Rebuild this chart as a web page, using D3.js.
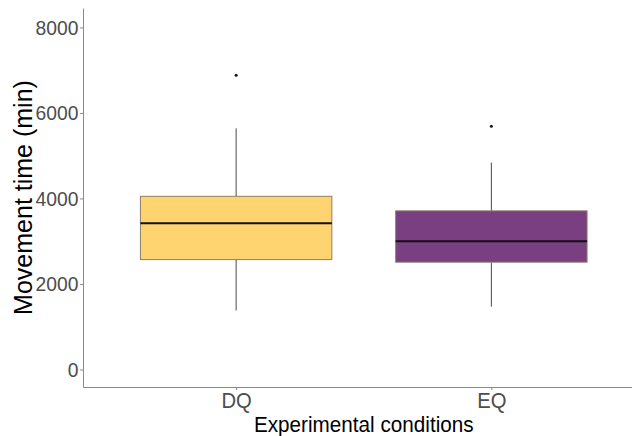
<!DOCTYPE html>
<html>
<head>
<meta charset="utf-8">
<script src="https://cdn.jsdelivr.net/npm/d3@7"></script>
<style>
  body { margin: 0; background: #fff; }
  text { font-family: "Liberation Sans", Arial, sans-serif; }
</style>
</head>
<body>
<div id="chart"></div>
<script>
// Data
const conditions = ['DQ', 'EQ'];
const whiskerLow = [1380, 1470];
const q1 = [2570, 2510];
const medians = [3420, 3000];
const q3 = [4050, 3710];
const whiskerHigh = [5640, 4840];
const outliers = [6880, 5690];
const fills = ['#FED470', '#7A3F81'];
const yTicks = [0, 2000, 4000, 6000, 8000];

const boxes = conditions.map((c, i) => ({
	name: c, lo: whiskerLow[i], q1: q1[i], med: medians[i], q3: q3[i],
	hi: whiskerHigh[i], out: outliers[i], fill: fills[i]
}));

const width = 632, height = 436;
const margin = {top: 8, left: 83, bottom: 49};

const svg = d3.select('#chart').append('svg')
	.attr('width', width)
	.attr('height', height);

// panel extends a bit past the right edge (cropped in the original)
const xScale = d3.scalePoint()
	.domain(conditions)
	.range([margin.left, 644.5])
	.padding(0.6);

const yScale = d3.scaleLinear()
	.domain([-410, 8455])
	.range([height - margin.bottom, margin.top]);

const boxW = xScale.step() * 0.75;

// the original text looks a little condensed
const squeeze = 0.92;

// axes
const yAxis = d3.axisLeft(yScale)
	.tickValues(yTicks)
	.tickFormat(d3.format('d'))
	.tickSize(3)
	.tickPadding(2)
	.tickSizeOuter(0);

const yAxisGroup = svg.append('g')
	.attr('transform', `translate(${margin.left}, 0)`)
	.call(yAxis);
yAxisGroup.select('.domain').attr('stroke', '#8a8a8a');
yAxisGroup.selectAll('.tick line').attr('stroke', '#8a8a8a');
yAxisGroup.selectAll('.tick text')
	.attr('fill', '#4d4d4d')
	.attr('transform', `scale(${squeeze}, 1)`)
	.style('font-size', '21px')
	.style('font-family', '"Liberation Sans", Arial, sans-serif');

const xAxis = d3.axisBottom(xScale)
	.tickSize(3)
	.tickPadding(2)
	.tickSizeOuter(0);

const xAxisGroup = svg.append('g')
	.attr('transform', `translate(0, ${height - margin.bottom})`)
	.call(xAxis);
xAxisGroup.select('.domain').attr('stroke', '#8a8a8a');
xAxisGroup.selectAll('.tick line').attr('stroke', '#8a8a8a');
xAxisGroup.selectAll('.tick text')
	.attr('fill', '#4d4d4d')
	.attr('transform', `scale(${squeeze}, 1)`)
	.style('font-size', '22px')
	.style('font-family', '"Liberation Sans", Arial, sans-serif');

// boxes
const g = svg.selectAll('.box')
	.data(boxes)
	.enter()
  .append('g')
	.attr('class', 'box');

g.append('line')
	.attr('x1', d => xScale(d.name)).attr('x2', d => xScale(d.name))
	.attr('y1', d => yScale(d.q3)).attr('y2', d => yScale(d.hi))
	.attr('stroke', '#4a4a4a').attr('stroke-width', 1);

g.append('line')
	.attr('x1', d => xScale(d.name)).attr('x2', d => xScale(d.name))
	.attr('y1', d => yScale(d.q1)).attr('y2', d => yScale(d.lo))
	.attr('stroke', '#4a4a4a').attr('stroke-width', 1);

g.append('rect')
	.attr('x', d => xScale(d.name) - boxW / 2)
	.attr('width', boxW)
	.attr('y', d => yScale(d.q3))
	.attr('height', d => yScale(d.q1) - yScale(d.q3))
	.attr('fill', d => d.fill)
	.attr('stroke', '#8c7f6a')
	.attr('stroke-width', 1);

g.append('line')
	.attr('x1', d => xScale(d.name) - boxW / 2).attr('x2', d => xScale(d.name) + boxW / 2)
	.attr('y1', d => yScale(d.med)).attr('y2', d => yScale(d.med))
	.attr('stroke', '#111').attr('stroke-width', 2);

g.append('circle')
	.attr('cx', d => xScale(d.name))
	.attr('cy', d => yScale(d.out))
	.attr('r', 1.5)
	.attr('fill', '#111');

// axis titles
svg.append('text')
	.attr('transform', `translate(${(margin.left + 644.5) / 2}, 432) scale(${squeeze}, 1)`)
	.attr('text-anchor', 'middle')
	.style('font-size', '22.5px')
	.attr('fill', '#000')
	.text('Experimental conditions');

svg.append('text')
	.attr('transform', `translate(32, ${(margin.top + height - margin.bottom) / 2}) rotate(-90)`)
	.attr('text-anchor', 'middle')
	.style('font-size', '25px')
	.attr('fill', '#000')
	.text('Movement time (min)');
</script>
</body>
</html>
